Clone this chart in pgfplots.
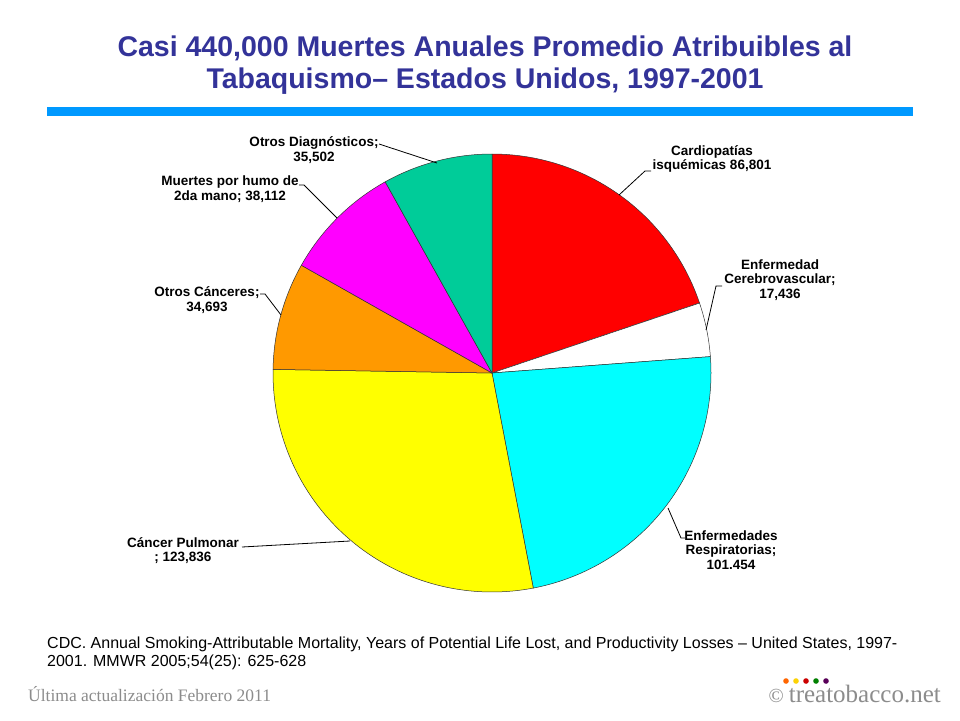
\documentclass[border=0pt]{standalone}
\usepackage{fontspec}
\setmainfont{Liberation Sans}
\newfontfamily\footserif{Liberation Serif}
\usepackage{pgfplots}
\pgfplotsset{compat=1.18}

\definecolor{titleblue}{HTML}{333399}
\definecolor{barblue}{HTML}{0099FF}
\definecolor{slicered}{HTML}{FF0000}
\definecolor{slicecyan}{HTML}{00FFFF}
\definecolor{sliceyellow}{HTML}{FFFF00}
\definecolor{sliceorange}{HTML}{FF9900}
\definecolor{slicemagenta}{HTML}{FF00FF}
\definecolor{slicegreen}{HTML}{00CC99}
\definecolor{footgray}{HTML}{8C8C8C}

% deaths per cause, clockwise from 12 o'clock
\def\total{437834}
\gdef\cum{0}
\newcommand\slice[2]{% #1 value, #2 colour
  \edef\angA{\fpeval{90-360*\cum/\total}}%
  \xdef\cum{\fpeval{\cum+#1}}%
  \edef\angB{\fpeval{90-360*\cum/\total}}%
  \addplot[fill=#2, draw=black!80, line width=0.5pt, domain=\angB:\angA,
    samples=80, variable=\t] ({cos(\t)},{sin(\t)}) -- (axis cs:0,0) -- cycle;
}

\begin{document}
\begin{tikzpicture}[x=1pt,y=-1pt]
  \fill[white] (0,0) rectangle (960,720);

  % title
  \node[font=\fontsize{28.5}{32}\selectfont\bfseries, text=titleblue, align=center]
    at (485,65) {Casi 440,000 Muertes Anuales Promedio Atribuibles al\\Tabaquismo– Estados Unidos, 1997-2001};
  \fill[barblue] (47,107) rectangle (913,116);

  \begin{axis}[at={(492pt,-373pt)}, anchor=center, width=438pt, height=438pt,
      scale only axis, hide axis, xmin=-1, xmax=1, ymin=-1, ymax=1, clip=false]
    \slice{86801}{slicered}
    \slice{17436}{white}
    \slice{101454}{slicecyan}
    \slice{123836}{sliceyellow}
    \slice{34693}{sliceorange}
    \slice{38112}{slicemagenta}
    \slice{35502}{slicegreen}
  \end{axis}

  % labels and leader lines
  \begin{scope}[every node/.style={font=\fontsize{13.5}{14.5}\selectfont\bfseries, align=center, inner sep=0pt}]
    \node at (712,159) {Cardiopatías\\isquémicas 86,801};
    \draw[line width=0.8pt] (619,195) -- (645,171) -- (651,171);
    \node at (780,280) {Enfermedad\\Cerebrovascular;\\17,436};
    \draw[line width=0.8pt] (706,330) -- (716,286) -- (722,286);
    \node at (731,550) {Enfermedades\\Respiratorias;\\101.454};
    \draw[line width=0.8pt] (668,508) -- (681,538) -- (685,538);
    \node at (183,550.5) {Cáncer Pulmonar\\; 123,836};
    \draw[line width=0.8pt] (242,547) -- (350,541);
    \node at (207,300) {Otros Cánceres;\\34,693};
    \draw[line width=0.8pt] (260,294) -- (265,294) -- (281,315);
    \node at (230,189) {Muertes por humo de\\2da mano; 38,112};
    \draw[line width=0.8pt] (299,185) -- (304,185) -- (337,218);
    \node at (314,150) {Otros Diagnósticos;\\35,502};
    \draw[line width=0.8pt] (379,144) -- (437,163);
  \end{scope}

  % source
  \begin{scope}[every node/.style={font=\fontsize{16}{19}\selectfont, anchor=west, inner sep=0pt}]
    \node at (47,644) {CDC. Annual Smoking-Attributable Mortality, Years of Potential Life Lost, and Productivity Losses – United States, 1997-};
    \node at (47,662) {2001. MMWR 2005;54(25): 625-628};
  \end{scope}

  % footer
  \node[font=\footserif\fontsize{17.5}{20}\selectfont, text=footgray, anchor=west, inner sep=0pt]
    at (28,694) {Última actualización Febrero 2011};
  \node[font=\footserif\fontsize{25}{28}\selectfont, text=footgray, anchor=east, inner sep=0pt]
    at (941,694) {\fontsize{20}{22}\selectfont\textcopyright\ \fontsize{25}{28}\selectfont treatobacco.net};
  \fill[orange!80!red] (786,681) circle (2.8);
  \fill[yellow!70!orange] (796,681) circle (2.8);
  \fill[red!80!black] (806,681) circle (2.8);
  \fill[green!50!black] (816,681) circle (2.8);
  \fill[violet!70!black] (826,681) circle (2.8);
\end{tikzpicture}
\end{document}
